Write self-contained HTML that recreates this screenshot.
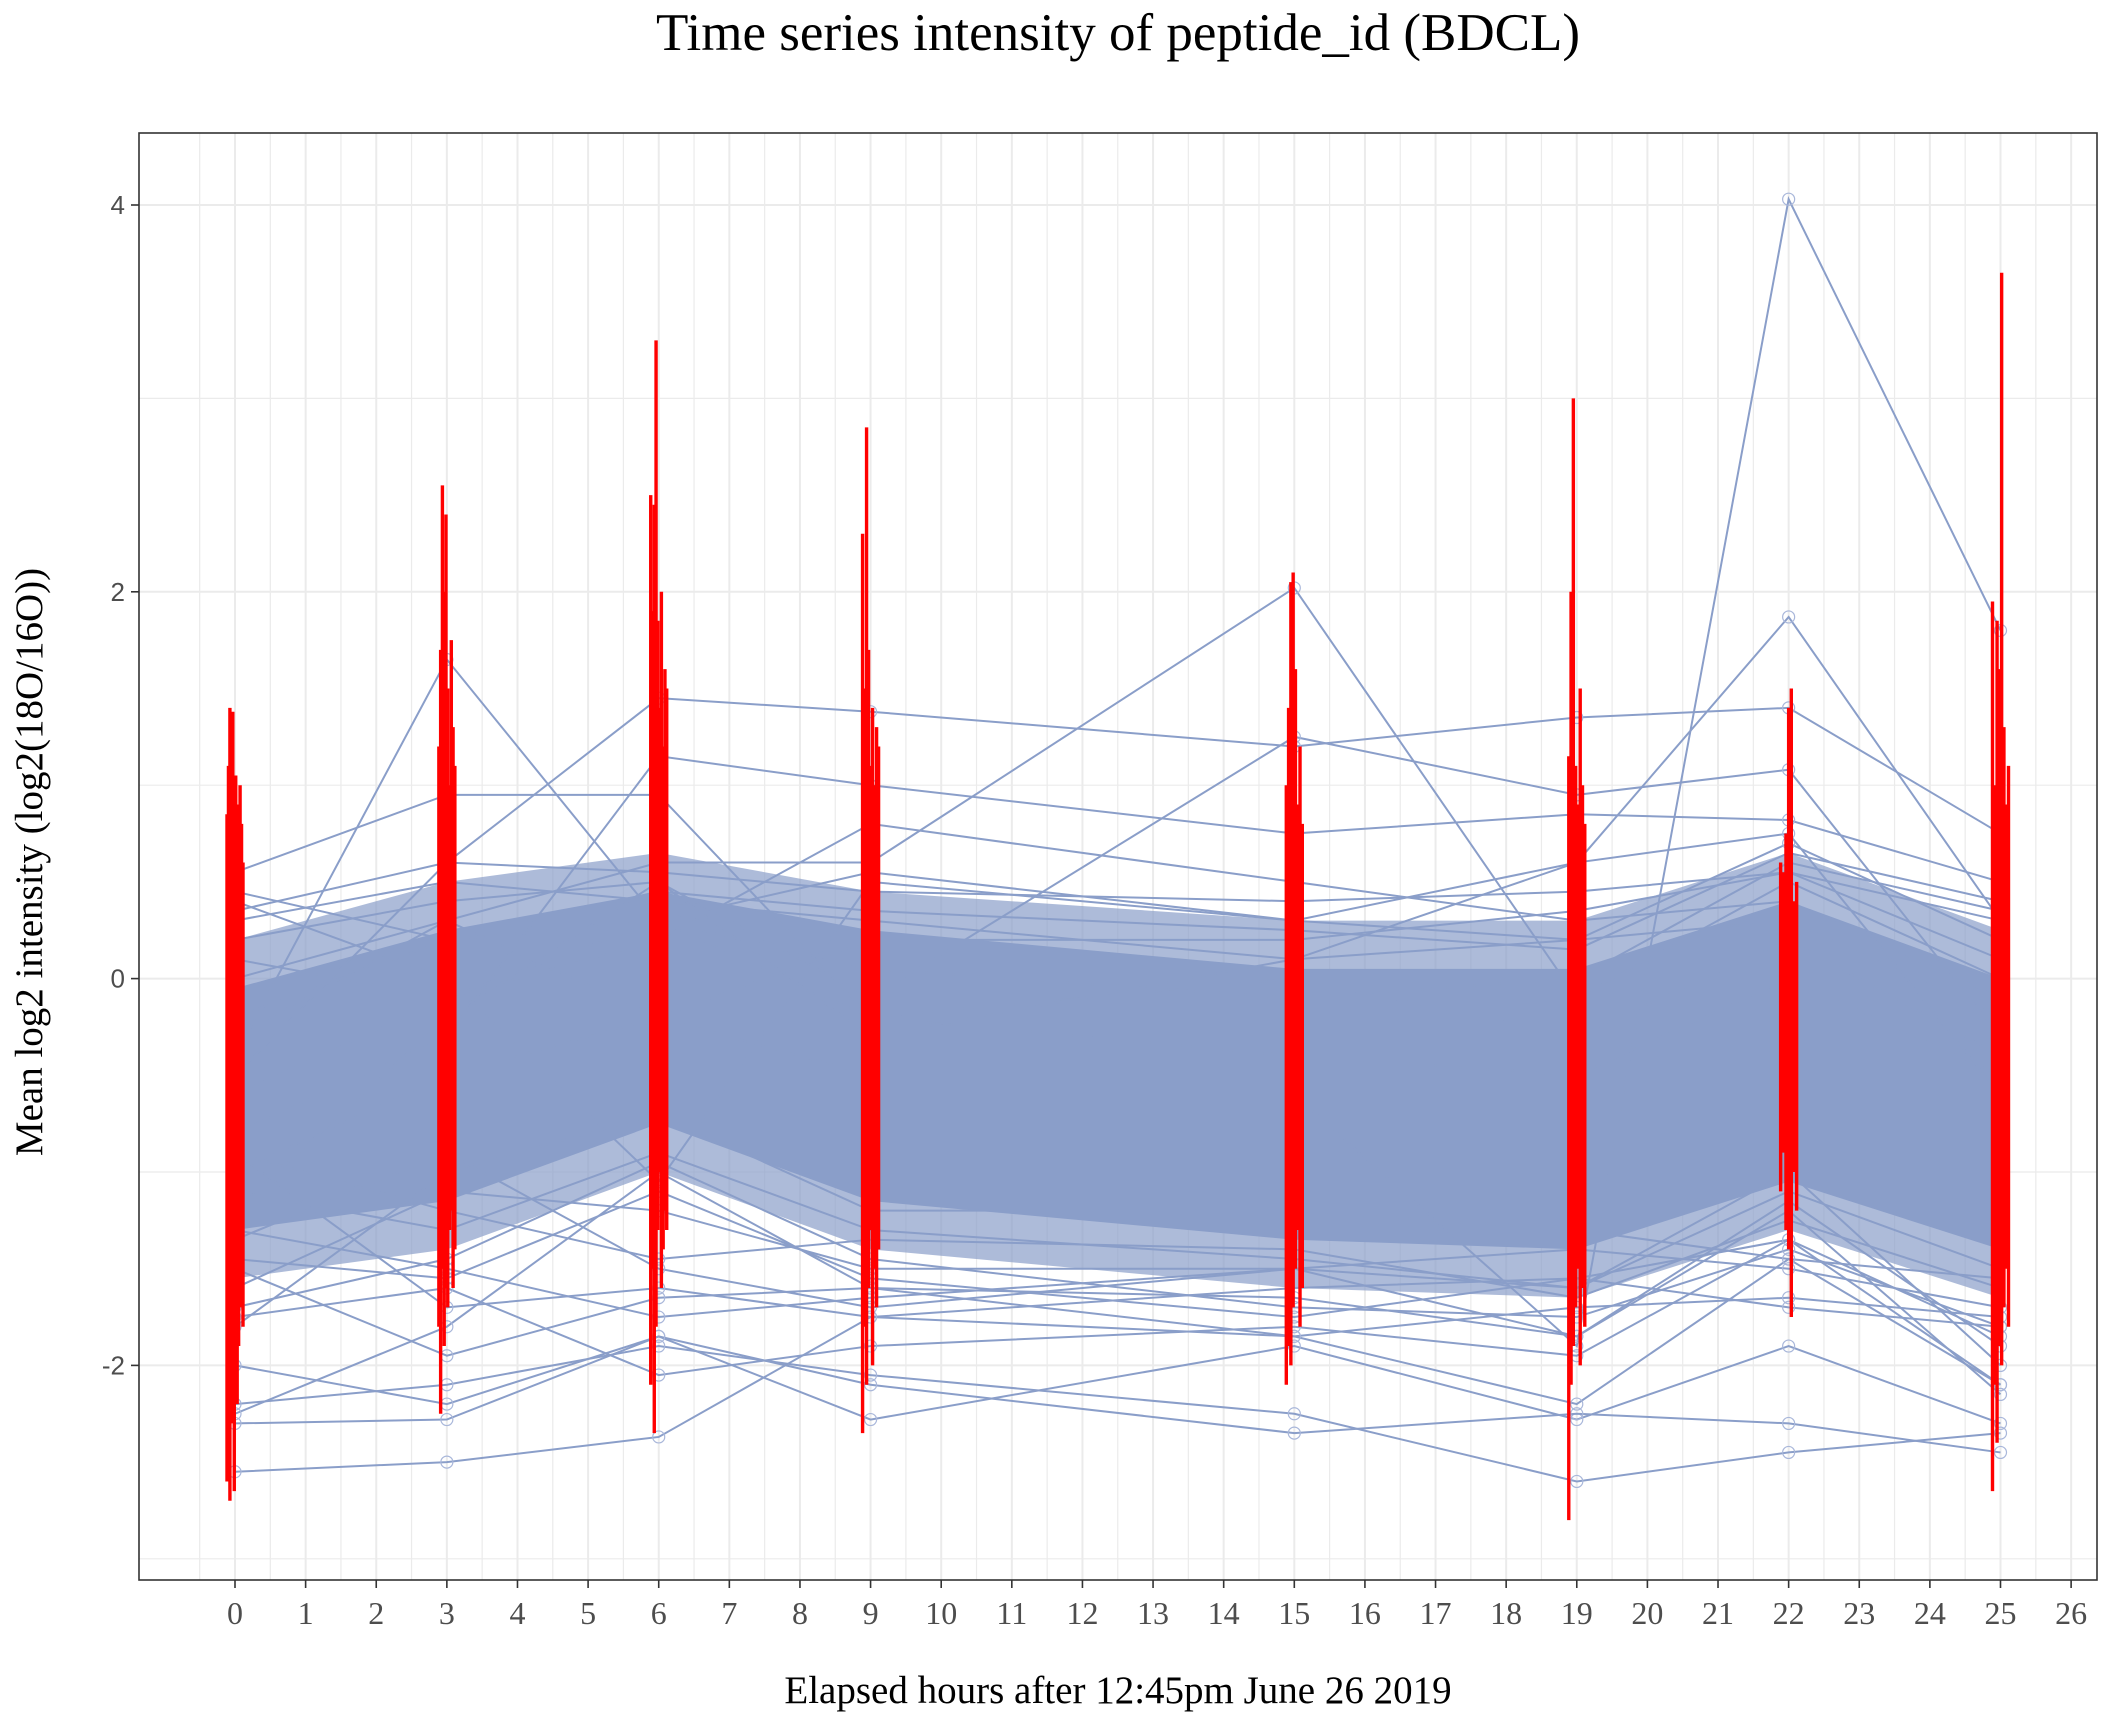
<!DOCTYPE html>
<html><head><meta charset="utf-8"><style>
html,body{margin:0;padding:0;background:#fff;}
svg{display:block;font-family:"Liberation Serif",serif;}
</style></head><body>
<svg id="chart" width="2112" height="1728" viewBox="0 0 2112 1728" xmlns="http://www.w3.org/2000/svg">
<rect width="2112" height="1728" fill="#fff"/>
<text x="1118" y="50" font-size="53" text-anchor="middle" fill="#000">Time series intensity of peptide_id (BDCL)</text>
<g id="grid"></g>
<g id="band"></g>
<g id="lines"></g>
<g id="bars"></g>
<rect x="139" y="133" width="1958" height="1447" fill="none" stroke="#333" stroke-width="1.6"/>
<g id="axes"></g>
<text x="1118" y="1703" font-size="39" text-anchor="middle" fill="#000">Elapsed hours after 12:45pm June 26 2019</text>
<text transform="translate(42,862) rotate(-90)" font-size="39" text-anchor="middle" fill="#000">Mean log2 intensity (log2(18O/16O))</text>
</svg>
<script>
const times = [0,3,6,9,15,19,22,25];
const xTicks = [0,1,2,3,4,5,6,7,8,9,10,11,12,13,14,15,16,17,18,19,20,21,22,23,24,25,26];
const yTicks = [4,2,0,-2];
const yMinor = [3,1,-1,-3];
const bandUpper = [-0.05,0.25,0.45,0.25,0.05,0.05,0.4,0.0];
const bandLower = [-1.3,-1.15,-0.75,-1.15,-1.35,-1.4,-1.05,-1.4];
const fringeUpper = [0.2,0.5,0.65,0.45,0.3,0.3,0.65,0.25];
const fringeLower = [-1.55,-1.4,-1.0,-1.4,-1.6,-1.65,-1.3,-1.65];
const series = [
[-2.55,-2.5,-2.37,-1.75,-1.85,-1.7,-1.65,-1.75],
[-2.3,-2.28,-1.85,-2.28,-1.9,-2.28,-1.9,-2.3],
[-2.2,-2.1,-1.9,-2.05,-2.25,-2.6,-2.45,-2.35],
[-2.0,-2.2,-1.85,-2.1,-2.35,-2.25,-2.3,-2.45],
[-1.75,-1.6,-2.05,-1.9,-1.8,-1.95,-1.35,-2.1],
[-1.5,-1.95,-1.65,-1.6,-1.85,-2.2,-1.45,-2.1],
[-1.0,-0.5,-0.2,-0.5,-0.6,-1.9,4.03,1.8],
[-0.3,0.3,0.6,0.6,2.02,-0.1,0.5,0.0],
[-0.4,1.65,0.3,-0.2,0.0,-0.3,0.2,-0.4],
[0.55,0.95,0.95,-0.2,-0.4,-0.5,0.0,-0.5],
[-0.5,0.6,1.45,1.38,1.2,1.35,1.4,0.75],
[-0.8,-0.3,1.15,1.0,0.75,0.85,0.82,0.5],
[0.4,0.0,-1.05,0.5,0.3,0.6,1.87,0.3],
[-1.2,-0.2,0.5,-0.1,1.25,0.95,1.08,-0.3],
[-0.9,-1.7,-1.6,-1.75,-1.6,-1.55,-1.7,-1.8],
[-1.3,-1.5,-1.75,-1.65,-1.5,-1.6,-1.0,-2.0],
[0.3,0.5,0.4,0.3,0.1,0.2,0.7,0.2],
[0.1,-0.1,0.2,0.8,0.5,0.3,0.4,-0.1],
[-0.2,0.2,0.3,0.05,-0.1,0.0,0.6,0.35],
[-1.1,-1.3,-0.9,-1.3,-1.45,-1.6,-1.1,-1.5],
[-1.6,-1.1,-1.2,-1.5,-1.5,-1.4,-1.5,-1.7],
[-0.9,-1.2,-1.45,-1.35,-1.4,-1.65,-1.25,-1.6],
[0.2,0.4,0.5,-0.3,0.1,0.6,0.75,-0.6],
[-1.8,-1.0,-0.7,-1.2,-1.2,-1.3,-1.45,-1.55],
[-2.25,-1.8,-1.0,-1.6,-1.65,-1.85,-1.15,-1.9],
[0.0,0.3,-0.2,0.2,0.2,0.35,0.55,0.1],
[-0.6,-0.1,0.3,0.55,0.3,0.2,0.3,-0.2],
[-1.35,-0.9,-1.5,-1.7,-1.5,-1.85,-1.2,-2.15],
[-1.7,-1.45,-0.95,-1.45,-1.7,-1.75,-1.4,-1.8],
[0.35,0.6,0.55,0.45,0.4,0.45,0.55,0.3],
[-1.45,-1.55,-1.1,-1.55,-1.75,-1.55,-1.35,-1.85],
[0.45,0.2,0.45,0.35,0.25,0.15,0.65,0.4]
];
const barHighs = [
[0.85,1.1,1.4,0.7,1.38,0.6,1.05,0.9,0.5,1.0,0.8,0.6],
[1.2,1.7,2.55,2.0,2.4,1.5,1.0,1.75,1.3,1.1],
[2.5,1.9,2.45,3.3,1.85,1.4,2.0,1.2,1.6,1.5],
[2.3,1.5,2.85,1.7,1.1,1.4,1.0,1.3,1.2],
[1.0,1.4,2.05,2.1,1.6,0.9,1.2,0.8],
[1.15,2.0,3.0,1.1,0.9,1.5,1.0,0.8],
[0.6,0.55,0.75,1.4,1.5,0.4,0.5],
[1.95,1.0,1.85,1.6,3.65,1.3,0.9,1.1]
];
const barLows = [
[-2.6,-2.0,-2.7,-2.3,-1.8,-2.65,-1.5,-2.2,-1.9,-1.7,-1.6,-1.8],
[-1.8,-2.25,-1.5,-1.9,-1.6,-1.7,-1.3,-1.2,-1.6,-1.4],
[-2.1,-1.5,-2.35,-1.8,-1.3,-1.0,-1.6,-1.4,-1.2,-1.3],
[-2.35,-1.8,-2.1,-1.6,-1.3,-2.0,-1.5,-1.7,-1.4],
[-2.1,-1.9,-2.0,-1.7,-1.5,-1.3,-1.8,-1.6],
[-2.8,-2.1,-1.9,-1.7,-1.5,-2.0,-1.6,-1.8],
[-1.1,-0.9,-1.3,-1.4,-1.75,-1.0,-1.2],
[-2.65,-2.1,-2.4,-1.9,-2.0,-1.7,-1.5,-1.8]
];
const NS='http://www.w3.org/2000/svg';
const X0=235, XS=70.62, Y0=978.6, YS=193.4, L=139, R=2097, T=133, B=1580;
function xs(t){return X0+XS*t;}
function ys(v){return Y0-YS*v;}
function mk(tag,attrs,parent){const e=document.createElementNS(NS,tag);for(const k in attrs)e.setAttribute(k,attrs[k]);parent.appendChild(e);return e;}
const grid=document.getElementById('grid');
for(let i=-1;i<xTicks.length;i++){const x=xs(xTicks[Math.max(i,0)]+(i<0?-0.5:0.5));if(x>L&&x<R){const g=mk('line',{x1:x,x2:x,y1:T,y2:B,stroke:'#ebebeb','stroke-width':1.2},grid);

}}
xTicks.forEach(t=>{const g=mk('line',{x1:xs(t),x2:xs(t),y1:T,y2:B,stroke:'#ebebeb','stroke-width':2},grid);

});
yMinor.forEach(v=>{const g=mk('line',{x1:L,x2:R,y1:ys(v),y2:ys(v),stroke:'#ebebeb','stroke-width':1.2},grid);

});
yTicks.forEach(v=>{const g=mk('line',{x1:L,x2:R,y1:ys(v),y2:ys(v),stroke:'#ebebeb','stroke-width':2},grid);

});
const band=document.getElementById('band');
function poly(up,lo,op,name){let pts=[];times.forEach((t,i)=>pts.push(xs(t)+','+ys(up[i])));for(let i=times.length-1;i>=0;i--)pts.push(xs(times[i])+','+ys(lo[i]));
const p=mk('polygon',{points:pts.join(' '),fill:'#8a9ec9','fill-opacity':op},band);

}
poly(fringeUpper,fringeLower,0.7,'band-fringe');
poly(bandUpper,bandLower,1,'band-core');
const lines=document.getElementById('lines');
series.forEach((s,si)=>{const pts=s.map((v,i)=>xs(times[i])+','+ys(v)).join(' ');
const pl=mk('polyline',{points:pts,fill:'none',stroke:'#8a9ec9','stroke-width':2},lines);


s.forEach((v,i)=>{if(v>fringeUpper[i]||v<fringeLower[i]){const c=mk('circle',{cx:xs(times[i]),cy:ys(v),r:6,fill:'none',stroke:'#a9b7da','stroke-width':1.2},lines);

}});});
const bars=document.getElementById('bars');
times.forEach((t,ti)=>{const hs=barHighs[ti],ls=barLows[ti],n=hs.length;
hs.forEach((h,j)=>{const x=xs(t)-8+16*j/(n-1);
const b=mk('line',{x1:x,x2:x,y1:ys(h),y2:ys(ls[j]),stroke:'#ff0000','stroke-width':3.4},bars);

});});
const axes=document.getElementById('axes');
xTicks.forEach(t=>{const tk=mk('line',{x1:xs(t),x2:xs(t),y1:B,y2:B+8,stroke:'#333','stroke-width':1.6},axes);


const tx=mk('text',{x:xs(t),y:1624,'font-size':32,'text-anchor':'middle',fill:'#4d4d4d'},axes);tx.textContent=t;

});
yTicks.forEach(v=>{const tk=mk('line',{x1:L-8,x2:L,y1:ys(v),y2:ys(v),stroke:'#333','stroke-width':1.6},axes);


const tx=mk('text',{x:L-14,y:ys(v)+9,'font-size':26,'text-anchor':'end',fill:'#4d4d4d','font-family':'Liberation Sans, sans-serif'},axes);tx.textContent=v;

});
</script>
</body></html>
